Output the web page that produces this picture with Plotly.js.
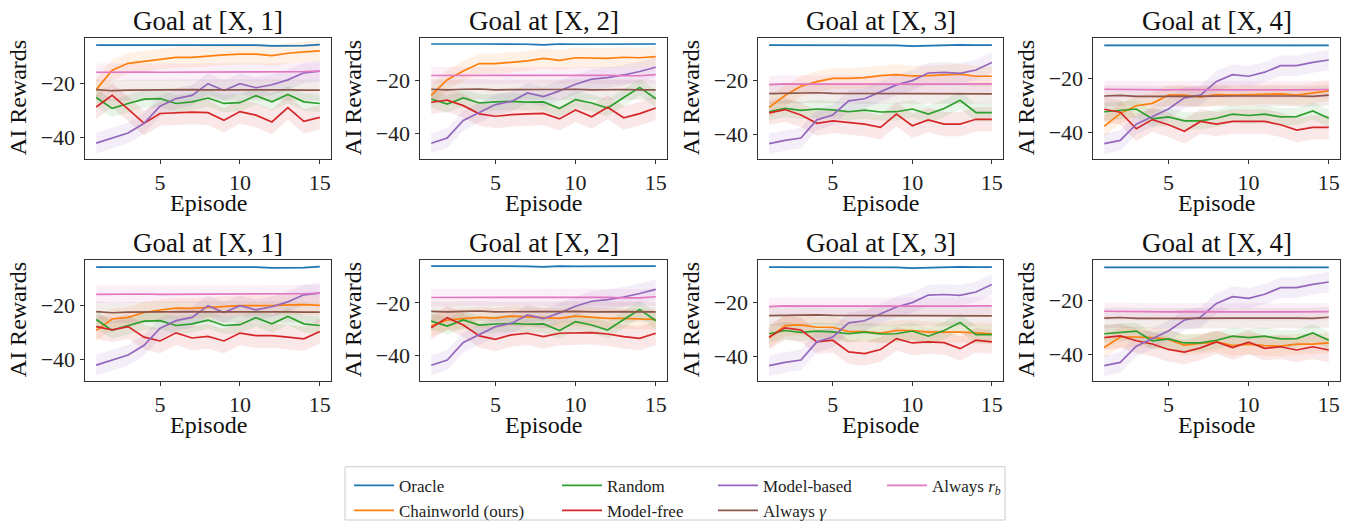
<!DOCTYPE html>
<html><head><meta charset="utf-8">
<script src="https://cdn.plot.ly/plotly-3.0.1.min.js"></script>
<style>html,body{margin:0;padding:0;background:#fff}#chart{width:1356px;height:529px}</style>
</head><body><div id="chart"></div>
<script>
// ---------------- DATA ----------------
const episodes = [1,2,3,4,5,6,7,8,9,10,11,12,13,14,15];
const goalTitles = ['Goal at [X, 1]','Goal at [X, 2]','Goal at [X, 3]','Goal at [X, 4]'];
const seriesNames = ['Oracle','Chainworld (ours)','Random','Model-free','Model-based','Always <i>γ</i>','Always <i>r</i><sub><i>b</i></sub>'];
// approximate half-width of the shaded band for each series (same order as seriesNames)
const bandHalfWidth = [0.4, 3.8, 3.2, 4.5, 3.8, 3.8, 3.2];

// one row per goal ([X,1] .. [X,4]); shared by both rows of panels
const oracle = [
  [-6.0,-6.0,-6.0,-6.1,-6.1,-6.1,-6.0,-6.0,-6.0,-6.0,-6.0,-6.3,-6.2,-6.2,-5.8],
  [-6.1,-6.2,-6.1,-6.1,-6.1,-6.1,-6.2,-6.4,-6.1,-6.2,-6.2,-6.2,-6.1,-6.1,-6.1],
  [-6.9,-6.9,-6.9,-6.9,-6.8,-6.9,-6.9,-6.9,-7.0,-7.3,-7.1,-7.0,-6.8,-6.9,-6.9],
  [-7.9,-7.9,-8.0,-8.0,-7.9,-7.9,-7.9,-8.0,-7.9,-7.9,-7.9,-7.9,-8.0,-7.8,-7.9]
];
const random = [
  [-25.3,-29.3,-27.5,-25.9,-25.7,-27.5,-26.9,-25.5,-27.5,-27.2,-24.6,-26.9,-24.2,-26.9,-27.5],
  [-26.9,-28.8,-26.5,-28.4,-28.0,-27.8,-28.1,-28.0,-30.5,-27.1,-28.4,-30.3,-26.3,-22.5,-26.8],
  [-31.5,-30.3,-31.0,-30.5,-30.8,-31.5,-30.9,-31.6,-31.5,-30.5,-32.4,-30.3,-27.3,-31.8,-31.8],
  [-32.4,-31.9,-31.4,-35.0,-34.3,-35.8,-35.8,-34.8,-33.3,-33.8,-33.3,-34.3,-34.2,-32.1,-34.8]
];
const modelBased = [
  [-42.1,-40.2,-38.4,-34.8,-28.5,-25.7,-24.5,-20.2,-22.7,-20.2,-21.7,-20.6,-18.8,-16.2,-15.6],
  [-43.6,-41.6,-35.0,-31.9,-29.0,-27.8,-24.6,-26.0,-23.8,-21.3,-19.4,-18.8,-17.8,-16.5,-14.9],
  [-43.3,-42.1,-41.2,-34.5,-32.7,-27.5,-26.7,-24.2,-21.6,-20.0,-17.2,-17.0,-17.3,-16.1,-13.3],
  [-44.2,-43.0,-37.0,-34.2,-31.4,-27.3,-26.3,-21.2,-18.7,-19.3,-17.8,-15.4,-15.4,-14.2,-13.3]
];
const alwaysGamma = [
  [-22.4,-22.8,-22.6,-22.5,-22.5,-22.4,-22.4,-22.5,-22.6,-22.5,-22.5,-22.4,-22.5,-22.6,-22.6],
  [-23.2,-23.4,-23.2,-23.1,-23.4,-23.3,-23.4,-23.3,-23.3,-23.2,-23.4,-23.3,-23.3,-23.4,-23.4],
  [-24.8,-24.7,-24.6,-24.5,-24.7,-24.7,-24.7,-24.8,-24.7,-24.7,-24.8,-24.8,-24.7,-24.8,-24.9],
  [-26.6,-26.4,-26.7,-26.8,-26.7,-26.7,-26.6,-26.7,-26.6,-26.6,-26.7,-26.6,-26.6,-26.7,-26.3]
];
const alwaysRb = [
  [-16.0,-15.9,-15.8,-15.9,-16.0,-16.0,-15.9,-15.9,-15.9,-15.9,-15.9,-16.0,-16.0,-15.8,-15.6],
  [-18.0,-18.0,-17.9,-17.9,-17.9,-17.9,-17.8,-17.9,-17.9,-18.0,-17.9,-17.9,-18.1,-18.1,-17.7],
  [-21.5,-21.2,-21.3,-21.3,-21.4,-21.5,-21.5,-21.4,-21.4,-21.5,-21.4,-21.5,-21.3,-21.2,-21.2],
  [-24.1,-24.2,-24.2,-24.3,-24.3,-24.2,-24.3,-24.4,-24.3,-24.3,-24.4,-24.3,-24.3,-24.3,-24.2]
];
// series that differ between the top row and the bottom row of panels
const chainworldTop = [
  [-22.4,-15.2,-12.7,-12.0,-11.2,-10.5,-10.5,-10.0,-9.6,-9.3,-9.3,-9.9,-9.0,-8.5,-8.1],
  [-25.5,-19.6,-16.3,-13.5,-13.5,-13.1,-12.5,-11.5,-12.3,-11.3,-11.5,-11.5,-11.1,-11.3,-10.9],
  [-29.9,-25.5,-22.1,-20.4,-19.2,-19.2,-18.9,-18.2,-17.8,-18.3,-18.2,-17.9,-17.6,-18.4,-18.4],
  [-37.8,-33.0,-30.2,-29.3,-26.3,-26.3,-27.0,-26.1,-26.3,-26.1,-25.8,-25.8,-26.3,-25.5,-24.7]
];
const chainworldBottom = [
  [-29.3,-25.1,-24.5,-22.7,-21.8,-21.1,-21.2,-20.8,-20.6,-20.2,-20.2,-20.2,-19.9,-19.8,-20.1],
  [-28.8,-26.5,-26.0,-25.5,-25.8,-25.0,-25.3,-25.5,-25.9,-25.0,-25.4,-25.9,-25.9,-26.1,-26.3],
  [-33.0,-28.5,-28.2,-29.1,-29.1,-30.7,-30.7,-31.3,-30.3,-30.3,-30.9,-30.9,-30.9,-31.2,-31.5],
  [-37.5,-33.6,-33.6,-33.8,-34.5,-36.6,-36.0,-35.4,-36.8,-36.2,-36.8,-37.0,-36.2,-36.2,-35.8]
];
const modelFreeTop = [
  [-28.8,-24.5,-29.6,-34.8,-31.2,-30.9,-30.7,-30.9,-33.7,-30.5,-31.8,-34.3,-29.0,-34.1,-32.6],
  [-28.1,-27.3,-29.4,-32.5,-33.4,-32.8,-32.5,-32.3,-34.4,-31.0,-33.6,-30.0,-34.0,-32.4,-30.3],
  [-31.9,-30.7,-32.7,-35.8,-34.9,-35.4,-36.1,-37.3,-32.4,-36.7,-34.5,-36.1,-36.1,-34.3,-34.3],
  [-31.5,-32.6,-38.7,-35.3,-37.2,-39.6,-36.0,-37.0,-36.0,-36.0,-36.0,-37.2,-39.2,-38.2,-38.2]
];
const modelFreeBottom = [
  [-27.9,-29.1,-27.9,-31.8,-33.2,-30.2,-32.1,-31.5,-33.2,-30.3,-31.2,-31.2,-31.8,-32.4,-29.7],
  [-29.4,-25.6,-28.4,-32.5,-33.8,-32.1,-31.5,-32.8,-31.5,-31.5,-31.3,-31.8,-32.8,-33.4,-31.5],
  [-32.7,-29.3,-30.1,-34.5,-33.9,-38.2,-38.8,-37.3,-33.3,-34.9,-34.5,-34.8,-37.0,-33.9,-34.5],
  [-33.8,-33.2,-35.0,-36.2,-38.2,-39.2,-37.6,-35.4,-37.5,-35.5,-37.8,-37.2,-38.4,-37.2,-38.4]
];

// ---------------- STYLE / LAYOUT ----------------
const W = 1356, H = 529;
const colors = ['#1f77b4','#ff7f0e','#2ca02c','#d62728','#9467bd','#8c564b','#e377c2'];
const legendIds = ['legend','legend','legend2','legend2','legend3','legend3','legend4'];
const FONT = 'Liberation Serif';
const colPx = [[85,331],[420,667],[758,1003],[1093,1340]];
const rowPx = [[38.3,160.7],[263.3,385.7]];
const yRanges = [[-47.8,-3.3],[-49.4,-3.75],[-48.8,-4.2],[-49.7,-5.1]];

function rgba(hex, a){
  const n = parseInt(hex.slice(1),16);
  return `rgba(${(n>>16)&255},${(n>>8)&255},${n&255},${a})`;
}
function seriesFor(row, g){
  return [oracle[g], row===0?chainworldTop[g]:chainworldBottom[g], random[g],
          row===0?modelFreeTop[g]:modelFreeBottom[g], modelBased[g], alwaysGamma[g], alwaysRb[g]];
}

const traces = [];
const layout = {
  width: W, height: H, paper_bgcolor:'#fff', plot_bgcolor:'#fff',
  margin:{l:0,r:0,t:0,b:0}, showlegend:true,
  font:{family:FONT, color:'#222'},
  annotations:[], shapes:[]
};

for (let row=0; row<2; row++){
  for (let g=0; g<4; g++){
    const p = row*4+g+1;
    const xa = 'x'+(p===1?'':p), ya = 'y'+(p===1?'':p);
    const xd = [colPx[g][0]/W, colPx[g][1]/W];
    const yd = [1-rowPx[row][1]/H, 1-rowPx[row][0]/H];
    const data = seriesFor(row,g);
    data.forEach((ys,i)=>{
      const up = ys.map(v=>v+bandHalfWidth[i]);
      const lo = ys.map(v=>v-bandHalfWidth[i]);
      traces.push({x: episodes.concat(episodes.slice().reverse()), y: up.concat(lo.slice().reverse()),
        xaxis:xa, yaxis:ya, type:'scatter', mode:'lines', fill:'toself',
        fillcolor: rgba(colors[i],0.11), line:{width:0}, hoverinfo:'skip', showlegend:false});
    });
    data.forEach((ys,i)=>{
      traces.push({x: episodes, y: ys, xaxis:xa, yaxis:ya, type:'scatter', mode:'lines',
        name: seriesNames[i], legend: legendIds[i], line:{color:colors[i], width:1.7},
        showlegend: p===1});
    });
    const axCommon = {showline:true, mirror:true, linecolor:'#333', linewidth:1, ticks:'outside',
      ticklen:4.5, tickwidth:1, tickcolor:'#333', showgrid:false, zeroline:false,
      tickfont:{family:FONT, size:22, color:'#222'}};
    layout['xaxis'+(p===1?'':p)] = Object.assign({}, axCommon, {domain:xd, anchor:ya,
      range:[0.3,15.7], tickvals:[5,10,15]});
    layout['yaxis'+(p===1?'':p)] = Object.assign({}, axCommon, {domain:yd, anchor:xa,
      range:yRanges[g], tick0:0, dtick:20});
    layout.annotations.push({text:goalTitles[g], xref:'paper', yref:'paper', x:(xd[0]+xd[1])/2, y:yd[1],
      xanchor:'center', yanchor:'bottom', yshift:0, showarrow:false, font:{family:FONT,size:27,color:'#111'}});
    layout.annotations.push({text:'Episode', xref:'paper', yref:'paper', x:(xd[0]+xd[1])/2, y:yd[0],
      xanchor:'center', yanchor:'middle', yshift:-44, showarrow:false, font:{family:FONT,size:24,color:'#111'}});
    layout.annotations.push({text:'AI Rewards', xref:'paper', yref:'paper', x:xd[0], y:(yd[0]+yd[1])/2,
      xanchor:'center', yanchor:'middle', xshift:-67, textangle:-90, showarrow:false, font:{family:FONT,size:24,color:'#111'}});
  }
}

// legend: four columns, inside one framed box
const legendColsPx = [349, 557, 713, 882];
const legendTopPx = 474;
['legend','legend2','legend3','legend4'].forEach((id,k)=>{
  layout[id] = {x: legendColsPx[k]/W, y: 1-legendTopPx/H, xanchor:'left', yanchor:'top',
    orientation:'v', bgcolor:'rgba(0,0,0,0)', borderwidth:0, itemwidth:40,
    font:{family:FONT, size:17, color:'#222'}, tracegroupgap:0};
});
layout.shapes.push({type:'rect', xref:'paper', yref:'paper', x0:345/W, x1:1005/W, y0:1-527/H, y1:1-473/H,
  line:{color:'#cccccc', width:1}, fillcolor:'rgba(255,255,255,0.8)', layer:'below'});

Plotly.newPlot('chart', traces, layout, {staticPlot:true, displayModeBar:false});
</script>
</body></html>
